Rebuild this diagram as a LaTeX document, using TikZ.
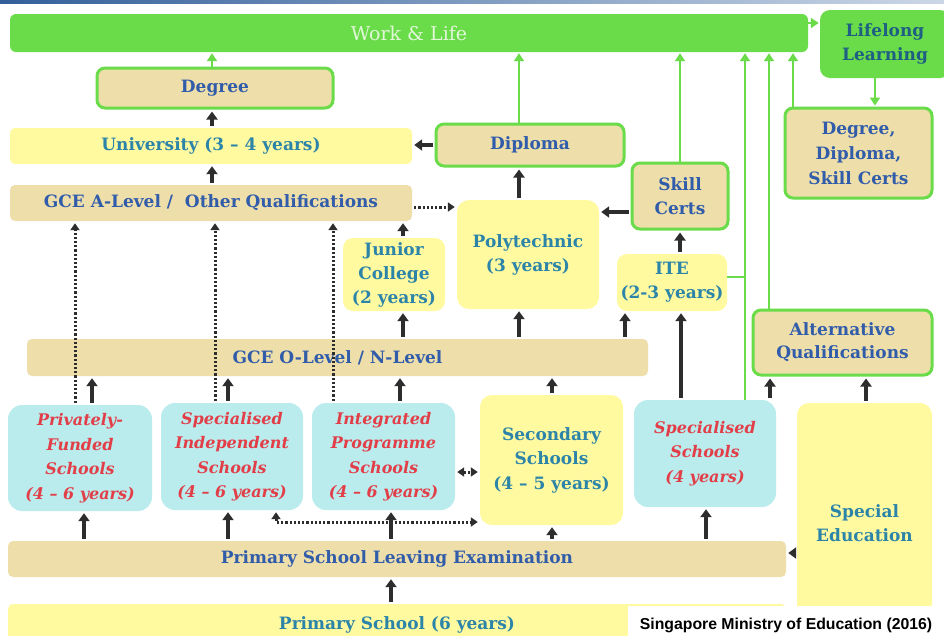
\documentclass[tikz,border=0pt]{standalone}
\usepackage{fontspec}
\setmainfont{DejaVu Serif}
\newfontfamily\creditfont{Liberation Sans}
\usetikzlibrary{arrows.meta}

\definecolor{wlgreen}{RGB}{106,220,74}
\definecolor{wltext}{RGB}{226,247,216}
\definecolor{lltext}{RGB}{30,95,130}
\definecolor{tanfill}{RGB}{238,222,170}
\definecolor{yelfill}{RGB}{255,250,160}
\definecolor{cyanfill}{RGB}{186,236,238}
\definecolor{tblue}{RGB}{48,92,170}
\definecolor{tteal}{RGB}{44,132,168}
\definecolor{tred}{RGB}{226,62,72}
\definecolor{arrgray}{RGB}{45,45,45}
\definecolor{topblue}{RGB}{50,95,155}

\tikzset{
  base/.style={inner sep=0pt, align=center, font=\fontsize{17}{24}\selectfont\bfseries},
  tanbar/.style={base, fill=tanfill, rounded corners=5pt, text=tblue},
  yelbar/.style={base, fill=yelfill, rounded corners=5pt, text=tteal},
  certbox/.style={base, fill=tanfill, draw=wlgreen, line width=3pt, rounded corners=8pt, text=tblue},
  yelbox/.style={base, fill=yelfill, rounded corners=12pt, text=tteal},
  cyanbox/.style={base, fill=cyanfill, rounded corners=14pt, text=tred,
    font=\fontsize{16}{24.5}\selectfont\bfseries\itshape},
  tip/.tip={Triangle[length=8pt,width=11pt]},
  arr/.style={draw=arrgray, line width=3.2pt, -tip, shorten <=2pt, shorten >=2pt},
  garr/.style={draw=wlgreen, line width=2.6pt, -{Triangle[length=8pt,width=10pt]}, shorten >=1pt},
  gline/.style={draw=wlgreen, line width=2.6pt},
  dotarr/.style={draw=arrgray, line width=3pt, dash pattern=on 2.2pt off 2pt,
    -{Triangle[length=7pt,width=9pt]}, shorten <=2pt, shorten >=2pt},
  dotboth/.style={dotarr, {Triangle[length=7pt,width=9pt]}-{Triangle[length=7pt,width=9pt]}},
}

\begin{document}
\begin{tikzpicture}[x=1pt,y=-1pt]
\useasboundingbox (0,0) rectangle (944,635);
\fill[white] (0,0) rectangle (944,635);
\fill[left color=topblue, right color=topblue!25] (0,0) rectangle (944,3);

% top row: work & life, lifelong learning
\node[base, fill=wlgreen, rounded corners=6pt, minimum width=798pt, minimum height=38pt,
  text=wltext, font=\fontsize{19}{22}\selectfont] (work) at (409,33) {Work \& Life};
\node[base, fill=wlgreen, rounded corners=10pt, minimum width=130pt, minimum height=68pt,
  text=lltext] (life) at (885,44) {Lifelong\\Learning};

% qualifications and tertiary
\node[certbox, minimum width=236pt, minimum height=40pt] (degree) at (215,88) {Degree};
\node[yelbar, minimum width=402pt, minimum height=36pt] (uni) at (211,146) {University (3 -- 4 years)};
\node[tanbar, minimum width=402pt, minimum height=36pt] (alevel) at (211,203) {GCE A-Level /\ \ Other Qualifications};
\node[certbox, minimum width=188pt, minimum height=42pt] (diploma) at (530,145) {Diploma};
\node[yelbox, minimum width=142pt, minimum height=109pt] (poly) at (528,254.5) {Polytechnic\\(3 years)};
\node[certbox, minimum width=96pt, minimum height=66pt] (skill) at (680,196) {Skill\\Certs};
\node[yelbox, rounded corners=10pt, minimum width=110pt, minimum height=57pt] (ite) at (672,282.5) {ITE\\(2-3 years)};
\node[yelbox, rounded corners=10pt, minimum width=102pt, minimum height=73pt] (jc) at (394,274.5) {Junior\\College\\(2 years)};
\node[certbox, minimum width=147pt, minimum height=90pt, font=\fontsize{17}{25}\selectfont\bfseries] (ddsc) at (858.5,153) {Degree,\\Diploma,\\Skill Certs};
\node[certbox, minimum width=179pt, minimum height=65pt, font=\fontsize{17}{23}\selectfont\bfseries] (altq) at (842.5,342.5) {Alternative\\Qualifications};
\node[tanbar, minimum width=621pt, minimum height=37pt] (olevel) at (337.5,357.5) {GCE O-Level / N-Level};

% secondary level
\node[cyanbox, minimum width=144pt, minimum height=106pt] (pfs) at (80,458) {Privately-\\Funded\\Schools\\(4 -- 6 years)};
\node[cyanbox, minimum width=142pt, minimum height=107pt] (sis) at (232,456.5) {Specialised\\Independent\\Schools\\(4 -- 6 years)};
\node[cyanbox, minimum width=143pt, minimum height=107pt] (ips) at (383.5,456.5) {Integrated\\Programme\\Schools\\(4 -- 6 years)};
\node[yelbox, minimum width=143pt, minimum height=130pt, font=\fontsize{17}{24.5}\selectfont\bfseries] (sec) at (551.5,460) {Secondary\\Schools\\(4 -- 5 years)};
\node[cyanbox, minimum width=142pt, minimum height=107pt] (sps) at (705,453.5) {Specialised\\Schools\\(4 years)};
\node[yelbox, minimum width=135pt, minimum height=240pt] (sped) at (864.5,523) {Special\\Education};

% primary level
\node[tanbar, minimum width=778pt, minimum height=36pt] (psle) at (397,559) {Primary School Leaving Examination};
\node[yelbar, minimum width=778pt, minimum height=42pt] (primary) at (397,625) {Primary School (6 years)};

% pathways (solid)
\draw[arr] (uni.north -| 212,0) -- (degree.south -| 212,0);
\draw[arr] (alevel.north -| 212,0) -- (uni.south -| 212,0);
\draw[arr] (diploma.west) -- (uni.east |- diploma.west);
\draw[arr] (poly.north -| 519,0) -- (diploma.south -| 519,0);
\draw[arr] (skill.west |- 0,212) -- (poly.east |- 0,212);
\draw[arr] (ite.north -| 680,0) -- (skill.south -| 680,0);
\draw[arr] (jc.north -| 403,0) -- (alevel.south -| 403,0);
\draw[arr] (olevel.north -| 403,0) -- (jc.south -| 403,0);
\draw[arr] (olevel.north -| 519,0) -- (poly.south -| 519,0);
\draw[arr] (olevel.north -| 625,0) -- (ite.south -| 625,0);
\draw[arr] (sps.north -| 681,0) -- (ite.south -| 681,0);
\draw[arr] (sec.north -| 552,0) -- (olevel.south -| 552,0);
\draw[arr] (pfs.north -| 92,0) -- (olevel.south -| 92,0);
\draw[arr] (sis.north -| 228,0) -- (olevel.south -| 228,0);
\draw[arr] (ips.north -| 400,0) -- (olevel.south -| 400,0);
\draw[arr] (psle.north -| 84,0) -- (pfs.south -| 84,0);
\draw[arr] (psle.north -| 228,0) -- (sis.south -| 228,0);
\draw[arr] (psle.north -| 391,0) -- (ips.south -| 391,0);
\draw[arr] (psle.north -| 552,0) -- (sec.south -| 552,0);
\draw[arr] (psle.north -| 706,0) -- (sps.south -| 706,0);
\draw[arr] (primary.north -| 391,0) -- (psle.south -| 391,0);
\draw[arr] (sped.west |- 0,553) -- (psle.east |- 0,553);
\draw[arr] (sps.north -| 770,0) -- (altq.south -| 770,0);
\draw[arr] (sped.north -| 866,0) -- (altq.south -| 866,0);

% pathways (dotted)
\draw[dotarr] (pfs.north -| 75,0) -- (alevel.south -| 75,0);
\draw[dotarr] (sis.north -| 215,0) -- (alevel.south -| 215,0);
\draw[dotarr] (ips.north -| 333,0) -- (alevel.south -| 333,0);
\draw[dotarr] (alevel.east |- 0,207) -- (poly.west |- 0,207);
\draw[dotboth] (ips.east |- 0,472) -- (sec.west |- 0,472);
\draw[dotboth] (sis.south -| 276,0) |- (sec.west |- 0,522);

% routes into work & life
\draw[garr] (degree.north -| 212,0) -- (work.south -| 212,0);
\draw[garr] (diploma.north -| 519,0) -- (work.south -| 519,0);
\draw[garr] (skill.north -| 680,0) -- (work.south -| 680,0);
\draw[garr] (sps.north -| 745,0) -- (work.south -| 745,0);
\draw[gline] (ite.east |- 0,277) -| (sps.north -| 745,0);
\draw[garr] (altq.north -| 769,0) -- (work.south -| 769,0);
\draw[garr] (ddsc.north -| 793,0) -- (work.south -| 793,0);
\draw[garr] (life.south -| 875,0) -- (ddsc.north -| 875,0);
\draw[garr] (work.east |- 0,23) -- (life.west |- 0,23);

% source line
\node[fill=white, inner sep=0pt, minimum width=316pt, minimum height=38pt,
  font=\creditfont\bfseries\fontsize{15.8}{18}\selectfont] (credit) at (786,625) {Singapore Ministry of Education (2016)};
\end{tikzpicture}
\end{document}
